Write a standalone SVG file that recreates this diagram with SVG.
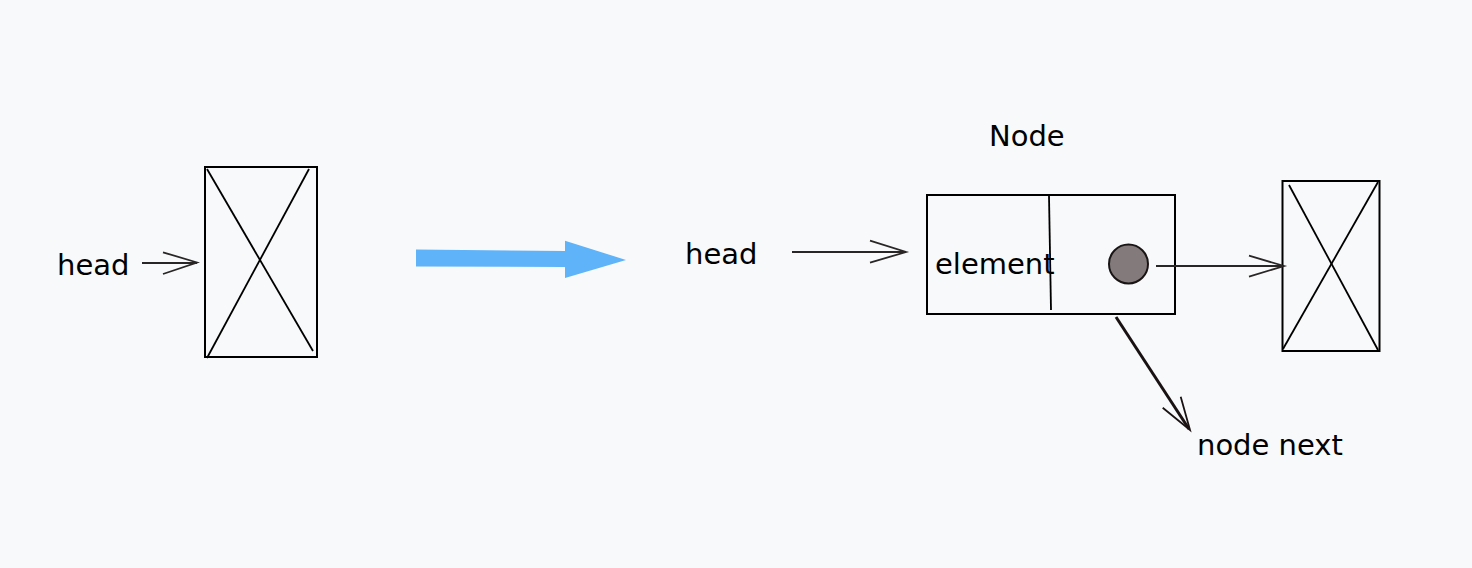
<svg xmlns="http://www.w3.org/2000/svg" width="1472" height="568" viewBox="0 0 1472 568">
<style>
.bg{fill:#f8f9fb}
.box{fill:none;stroke:#000;stroke-width:2}
.x{stroke:#000;stroke-width:1.8;fill:none}
.t{font-family:"DejaVu Sans",sans-serif;font-size:29px;fill:#000}
.ln{fill:none;stroke:#2a2626;stroke-width:1.8}
</style>
<rect class="bg" x="0" y="0" width="1472" height="568"/>
<g id="node-left">
<rect class="box" x="205" y="167" width="112" height="190"/>
<line class="x" x1="207" y1="169" x2="313" y2="351"/>
<line class="x" x1="309" y1="169" x2="207" y2="358"/>
</g>
<g id="label-head-left"><text class="t" x="57" y="275">head</text></g>
<g id="transform-arrow">
<polygon fill="#5fb3f8" points="416,249.5 565,251 565,240.7 626,260 565,278 565,267 416,266.5"/>
</g>
<g id="label-head-mid"><text class="t" x="685" y="264">head</text></g>
<g id="label-node"><text class="t" x="989" y="146">Node</text></g>
<g id="node-mid">
<rect class="box" x="927" y="195" width="248" height="119"/>
<line class="x" x1="1049" y1="196" x2="1051" y2="310"/>
<text class="t" x="935" y="274">element</text>
<circle cx="1128.5" cy="264" r="19.5" fill="#837b7b" stroke="#1a1515" stroke-width="2"/>
</g>
<g id="node-right">
<rect class="box" x="1282.5" y="181" width="97" height="170"/>
<line class="x" x1="1289" y1="185" x2="1378" y2="350"/>
<line class="x" x1="1378" y1="182" x2="1283" y2="349"/>
</g>
<g id="label-node-next"><text class="t" x="1197" y="455">node next</text></g>
<g id="connectors">
<path class="ln" d="M142,263 H197 M163,252.3 L197,262.5 L163,274"/>
<path class="ln" d="M792,252 H906 M870,240.7 L906,252 L870,262.7"/>
<path class="ln" stroke="#3a3434" d="M1156,266 H1284 M1249,255.7 L1284,266 L1249,276.7"/>
<path fill="none" stroke="#1a1212" stroke-width="3" d="M1116,317 L1189,429"/>
<path fill="none" stroke="#1a1212" stroke-width="1.8" d="M1162.7,407.7 L1190,430 L1180.7,396.7"/>
</g>
</svg>
